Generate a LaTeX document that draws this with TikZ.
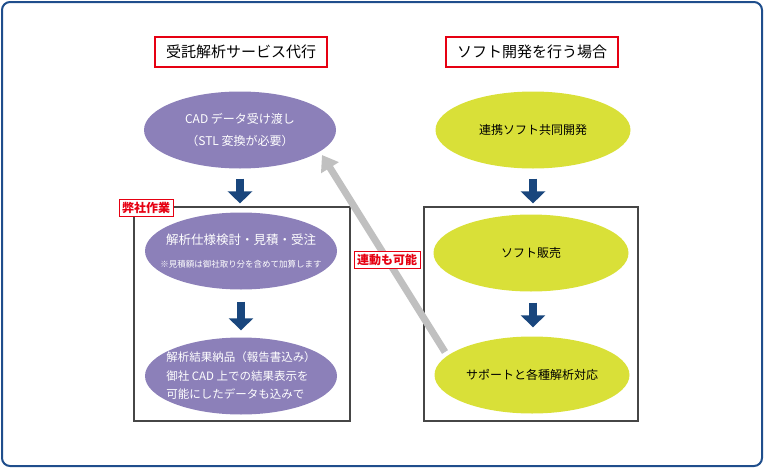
\documentclass[tikz,border=0pt]{standalone}
\usepackage{fontspec}
\setmainfont{Noto Sans CJK JP}
\usetikzlibrary{shapes,shapes.geometric,calc,arrows.meta}
\definecolor{framecol}{RGB}{31,78,140}
\definecolor{titlered}{RGB}{230,0,18}
\definecolor{lilacfill}{RGB}{140,128,185}
\definecolor{limefill}{RGB}{217,224,56}
\definecolor{navy}{RGB}{25,70,125}
\definecolor{linkgray}{RGB}{192,192,192}
\definecolor{boxgray}{RGB}{70,70,70}

\begin{document}
\begin{tikzpicture}[x=1pt,y=-1pt]
				\tikzstyle{title}=[rectangle,draw=titlered,line width=1.5pt,fill=white,minimum width=172pt,minimum height=30pt,inner sep=0pt,font=\fontsize{15}{16}\selectfont]
				\tikzstyle{lilac}=[ellipse,fill=lilacfill,text=white,minimum width=192pt,minimum height=77pt,inner xsep=-30pt,inner ysep=-8pt,align=center,font=\fontsize{12}{18.5}\selectfont]
				\tikzstyle{lime}=[ellipse,fill=limefill,text=black,minimum width=195pt,minimum height=77pt,inner xsep=-30pt,inner ysep=-8pt,align=center,font=\fontsize{12}{18.5}\selectfont]
				\tikzstyle{group}=[rectangle,draw=boxgray,line width=1.2pt,inner sep=0pt,minimum height=214pt]
				\tikzstyle{tag}=[rectangle,draw=titlered,line width=1pt,fill=white,text=titlered,inner sep=3pt,font=\bfseries\fontsize{12}{14}\selectfont]
				\tikzstyle{down}=[line width=8pt,draw=navy,-{Triangle[width=24pt,length=12pt]}]
				\tikzstyle{link}=[line width=7pt,draw=linkgray,-{Triangle[width=20pt,length=15pt]}]
				\useasboundingbox (0,0) rectangle (764,469);
				\draw[framecol,line width=2pt,rounded corners=8pt] (2,2) rectangle (762,466);
				\node[title] (leftttl) at (241,52) {受託解析サービス代行};
				\node[title] (rightttl) at (532,52) {ソフト開発を行う場合};
				\node[group,minimum width=216pt] (work) at (242,314) {};
				\node[group,minimum width=214pt] (soft) at (531,314) {};
				\node[tag] (worktag) at (146,208) {弊社作業};
				\node[lilac] (cad) at (240,130) {CAD データ受け渡し\\[3.5pt]（STL 変換が必要）};
				\node[lilac] (spec) at (241,251) {\fontsize{12.5}{14}\selectfont 解析仕様検討・見積・受注\\[4pt]\fontsize{8.5}{10}\selectfont ※見積額は御社取り分を含めて加算します};
				\node[lilac,align=left,font=\fontsize{11.5}{18.5}\selectfont] (result) at (241,376) {解析結果納品（報告書込み）\\御社 CAD 上での結果表示を\\可能にしたデータも込みで};
				\node[lime] (joint) at (533,130) {連携ソフト共同開発};
				\node[lime] (sale) at (531,253) {ソフト販売};
				\node[lime] (sup) at (532,375) {サポートと各種解析対応};
				\coordinate (linkfrom) at (445,352);
				\coordinate (linkto) at (322,155);
				\draw[down,shorten <=10pt,shorten >=3pt] (cad.south) -- (cad.south |- work.north);
				\draw[down,shorten <=12pt,shorten >=7pt] (spec.south) -- (spec.south |- result.north);
				\draw[down,shorten <=10pt,shorten >=3pt] (joint.south) -- (joint.south |- soft.north);
				\draw[down,shorten <=11pt,shorten >=9pt] (joint.south |- sale.south) -- (joint.south |- sup.north);
				\draw[link] (linkfrom) -- (linkto);
				\node[tag] (linktag) at (387,260) {連動も可能};
			\end{tikzpicture}
\end{document}
